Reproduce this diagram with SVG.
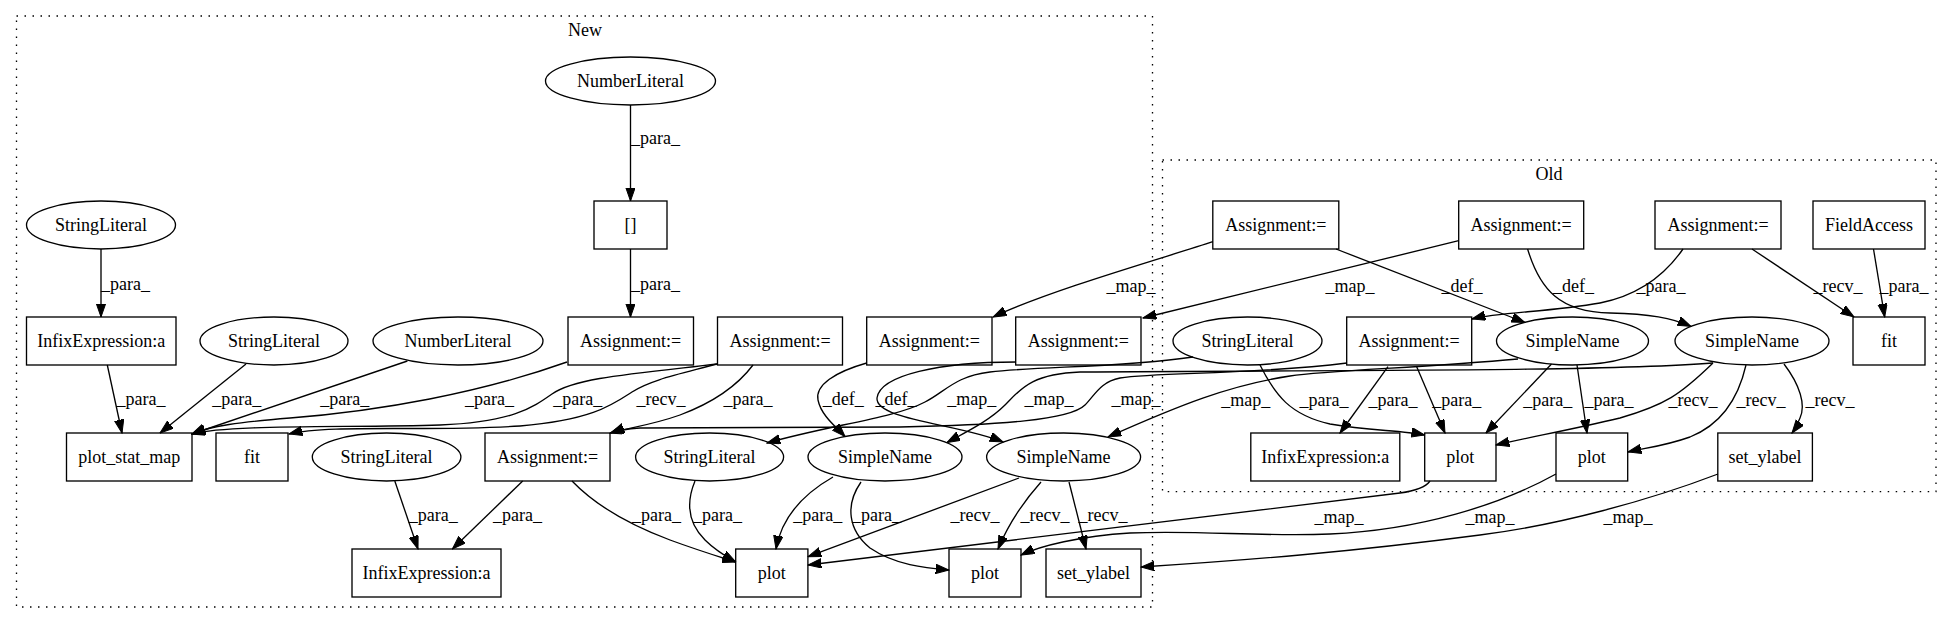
<svg xmlns="http://www.w3.org/2000/svg" width="1952" height="624" viewBox="0 0 1952 624" font-family="'Liberation Serif', 'DejaVu Serif', serif" font-size="18">
<style>
  text { font-family: 'Liberation Serif', 'DejaVu Serif', serif; font-size: 18px; fill: #000; text-anchor: middle; }
  .nd { fill: none; stroke: #000; stroke-width: 1.33; }
  .cl { fill: none; stroke: #000; stroke-width: 1.33; stroke-dasharray: 1.5 6.5; }
  .e { fill: none; stroke: #000; stroke-width: 1.33; marker-end: url(#ah); }
</style>
<defs>
  <marker id="ah" markerUnits="userSpaceOnUse" markerWidth="14" markerHeight="10" viewBox="0 0 14 10" refX="13.3" refY="4.67" orient="auto">
    <path d="M0,0 L13.3,4.67 L0,9.33 z" fill="#000" stroke="#000" stroke-width="1"/>
  </marker>
</defs>
<rect x="0" y="0" width="1952" height="624" fill="#fff"/>

<g id="cluster_new">
  <rect class="cl" x="16.5" y="16" width="1136" height="591"/>
  <text x="585" y="36">New</text>
</g>
<g id="cluster_old">
  <rect class="cl" x="1162.5" y="160" width="773.5" height="331.7"/>
  <text x="1549" y="180">Old</text>
</g>

<g id="connectors">
  <path class="e" d="M630.5,105 L630.5,201"/>
  <text x="655.5" y="143.5">_para_</text>
  <path class="e" d="M630.5,249 L630.5,317"/>
  <text x="655.5" y="289.5">_para_</text>
  <path class="e" d="M101,249 L101,317"/>
  <text x="125.5" y="289.5">_para_</text>
  <path class="e" d="M107.3,365 L122,433"/>
  <text x="141" y="405">_para_</text>
  <path class="e" d="M246,364 L160,433"/>
  <text x="236.8" y="405">_para_</text>
  <path class="e" d="M407.4,361 L192,434"/>
  <text x="344.7" y="405">_para_</text>
  <path class="e" d="M567,362 C480,393 380,411 290,418 C240,422 210,426 192,434"/>
  <text x="489.5" y="405">_para_</text>
  <path class="e" d="M717,364 C630,374 575,378 552,394 C532,408 512,422 440,425 C350,428 230,424 192,434"/>
  <text x="577.8" y="405">_para_</text>
  <path class="e" d="M717,364 C680,374 650,380 632,392 C612,405 592,420 520,426 C430,432 330,424 289,434"/>
  <text x="661" y="405">_recv_</text>
  <path class="e" d="M753,365 C738,385 712,403 680,415 C652,425 628,428 610,433"/>
  <text x="748" y="405">_para_</text>
  <path class="e" d="M866.7,363 C835,372 815,385 818,400 C821,415 835,426 845,436.5"/>
  <text x="843.3" y="405">_def_</text>
  <path class="e" d="M1016,362 C940,362 880,375 877,398 C875,420 960,424 1003,442"/>
  <text x="896" y="405">_def_</text>
  <path class="e" d="M394.8,481 L418,549"/>
  <text x="433.3" y="521">_para_</text>
  <path class="e" d="M522.7,481 L452.4,549"/>
  <text x="517.5" y="521">_para_</text>
  <path class="e" d="M572,481 C595,505 630,525 670,540 C700,551 720,557 735.7,562"/>
  <text x="656.5" y="521">_para_</text>
  <path class="e" d="M695,481 C685,505 690,525 705,540 C715,550 725,556 735.7,562"/>
  <text x="717.5" y="521">_para_</text>
  <path class="e" d="M833,477 C805,493 782,515 776,549"/>
  <text x="817.7" y="521">_para_</text>
  <path class="e" d="M861,482 C845,505 848,530 870,548 C895,565 925,568 949,570"/>
  <text x="876.6" y="521">_para_</text>
  <path class="e" d="M1019,478 L808,556.7"/>
  <text x="975" y="521">_recv_</text>
  <path class="e" d="M1041,482 C1025,500 1008,525 998,549"/>
  <text x="1045" y="521">_recv_</text>
  <path class="e" d="M1069,482 L1086,549"/>
  <text x="1103" y="521">_recv_</text>

  <path class="e" d="M1336,249 L1525,322.5"/>
  <text x="1462" y="292">_def_</text>
  <path class="e" d="M1527.6,249 C1540,290 1560,312 1610,313 C1650,314 1672,318 1691,326.5"/>
  <text x="1573.5" y="292">_def_</text>
  <path class="e" d="M1683,249 C1665,275 1640,295 1600,303 C1550,312 1500,312 1472,319"/>
  <text x="1661" y="292">_para_</text>
  <path class="e" d="M1752,249 L1854,317"/>
  <text x="1838" y="292">_recv_</text>
  <path class="e" d="M1873.5,249 L1884.7,317"/>
  <text x="1904" y="292">_para_</text>
  <path class="e" d="M1260,365 C1275,395 1290,415 1330,424 C1370,431 1400,430 1424.7,435"/>
  <text x="1324" y="406">_para_</text>
  <path class="e" d="M1388,366.7 L1340,433"/>
  <text x="1393" y="406">_para_</text>
  <path class="e" d="M1416.7,366.7 L1445,433"/>
  <text x="1456.7" y="406">_para_</text>
  <path class="e" d="M1551.5,364 L1486,433"/>
  <text x="1547.7" y="406">_para_</text>
  <path class="e" d="M1577,365 L1587,433"/>
  <text x="1609" y="406">_para_</text>
  <path class="e" d="M1713,363 C1680,395 1665,405 1620,418 C1570,430 1530,437 1496,445"/>
  <text x="1693" y="406">_recv_</text>
  <path class="e" d="M1746,365 C1738,400 1720,425 1690,437 C1665,446 1645,448 1628,452"/>
  <text x="1761" y="406">_recv_</text>
  <path class="e" d="M1784,364 C1800,385 1806,405 1800,418 C1797,425 1795,429 1792,433"/>
  <text x="1830" y="406">_recv_</text>

  <path class="e" d="M1212.8,241.7 C1170,256 1050,290 993,317"/>
  <text x="1131" y="292">_map_</text>
  <path class="e" d="M1458.7,240.7 L1143,318"/>
  <text x="1350" y="292">_map_</text>
  <path class="e" d="M1193,357 C1120,368 1040,366 990,372 C955,376 945,392 925,402 C895,418 830,425 767,443"/>
  <text x="971.7" y="405">_map_</text>
  <path class="e" d="M1347,363 C1250,375 1160,372 1120,378 C1100,382 1095,395 1085,405 C1070,420 1000,425 900,427 L640,428 C625,429 616,431 611,433"/>
  <text x="1136" y="405">_map_</text>
  <path class="e" d="M1713,363 C1600,372 1300,370 1080,372 C1030,374 1020,390 1005,405 C990,420 970,430 947,442.5"/>
  <text x="1049" y="405">_map_</text>
  <path class="e" d="M1518,359 C1420,368 1330,370 1290,376 C1230,385 1180,405 1108,437"/>
  <text x="1245.8" y="406">_map_</text>
  <path class="e" d="M1430,481 C1425,488 1415,491 1400,493 L808,565"/>
  <text x="1339" y="523">_map_</text>
  <path class="e" d="M1556,474 C1500,505 1420,530 1330,534 C1260,537 1200,530 1130,533 C1080,536 1040,546 1021,555"/>
  <text x="1490" y="523">_map_</text>
  <path class="e" d="M1718,474 C1650,500 1560,525 1480,535 C1350,552 1250,560 1141,567"/>
  <text x="1628" y="523">_map_</text>
</g>

<g id="n_num1"><ellipse class="nd" cx="630.5" cy="81" rx="85" ry="24"/><text x="630.5" y="87">NumberLiteral</text></g>
<g id="n_idx"><rect class="nd" x="594" y="201" width="73" height="48"/><text x="630.5" y="231">[]</text></g>
<g id="n_str1"><ellipse class="nd" cx="101" cy="225" rx="74.5" ry="24"/><text x="101" y="231">StringLiteral</text></g>
<g id="n_infix1"><rect class="nd" x="26.5" y="317" width="149.5" height="48"/><text x="101.2" y="347">InfixExpression:a</text></g>
<g id="n_str2"><ellipse class="nd" cx="274" cy="341" rx="74" ry="24"/><text x="274" y="347">StringLiteral</text></g>
<g id="n_num2"><ellipse class="nd" cx="458" cy="341" rx="85" ry="24"/><text x="458" y="347">NumberLiteral</text></g>
<g id="n_asg1"><rect class="nd" x="568" y="317" width="125.5" height="48"/><text x="630.7" y="347">Assignment:=</text></g>
<g id="n_asg2"><rect class="nd" x="717.5" y="317" width="125" height="48"/><text x="780" y="347">Assignment:=</text></g>
<g id="n_asg3"><rect class="nd" x="866.7" y="317" width="125.3" height="48"/><text x="929.3" y="347">Assignment:=</text></g>
<g id="n_asg4"><rect class="nd" x="1015.7" y="317" width="125.3" height="48"/><text x="1078.3" y="347">Assignment:=</text></g>
<g id="n_psm"><rect class="nd" x="66.5" y="433" width="125.5" height="48"/><text x="129.2" y="463">plot_stat_map</text></g>
<g id="n_fit"><rect class="nd" x="216" y="433" width="72" height="48"/><text x="252" y="463">fit</text></g>
<g id="n_str3"><ellipse class="nd" cx="386.6" cy="457" rx="74.3" ry="24"/><text x="386.6" y="463">StringLiteral</text></g>
<g id="n_asg5"><rect class="nd" x="485" y="433" width="125" height="48"/><text x="547.5" y="463">Assignment:=</text></g>
<g id="n_str4"><ellipse class="nd" cx="709.6" cy="457" rx="74" ry="24"/><text x="709.6" y="463">StringLiteral</text></g>
<g id="n_sn1"><ellipse class="nd" cx="885" cy="457" rx="77" ry="24"/><text x="885" y="463">SimpleName</text></g>
<g id="n_sn2"><ellipse class="nd" cx="1063.6" cy="457" rx="77" ry="24"/><text x="1063.6" y="463">SimpleName</text></g>
<g id="n_infix2"><rect class="nd" x="352" y="549" width="149" height="48"/><text x="426.5" y="579">InfixExpression:a</text></g>
<g id="n_plot1"><rect class="nd" x="735.7" y="549" width="72.2" height="48"/><text x="771.8" y="579">plot</text></g>
<g id="n_plot2"><rect class="nd" x="949" y="549" width="72" height="48"/><text x="985" y="579">plot</text></g>
<g id="n_setyl"><rect class="nd" x="1046" y="549" width="95" height="48"/><text x="1093.5" y="579">set_ylabel</text></g>

<g id="o_asg1"><rect class="nd" x="1212.8" y="201" width="126" height="48"/><text x="1275.8" y="231">Assignment:=</text></g>
<g id="o_asg2"><rect class="nd" x="1458.7" y="201" width="125" height="48"/><text x="1521.2" y="231">Assignment:=</text></g>
<g id="o_asg3"><rect class="nd" x="1655" y="201" width="126" height="48"/><text x="1718" y="231">Assignment:=</text></g>
<g id="o_fa"><rect class="nd" x="1813" y="201" width="112" height="48"/><text x="1869" y="231">FieldAccess</text></g>
<g id="o_str"><ellipse class="nd" cx="1247.5" cy="341" rx="74.5" ry="24"/><text x="1247.5" y="347">StringLiteral</text></g>
<g id="o_asg4"><rect class="nd" x="1346.7" y="317" width="125" height="48"/><text x="1409.2" y="347">Assignment:=</text></g>
<g id="o_sn1"><ellipse class="nd" cx="1572.5" cy="341" rx="76" ry="24"/><text x="1572.5" y="347">SimpleName</text></g>
<g id="o_sn2"><ellipse class="nd" cx="1752" cy="341" rx="77" ry="24"/><text x="1752" y="347">SimpleName</text></g>
<g id="o_fit"><rect class="nd" x="1853" y="317" width="72" height="48"/><text x="1889" y="347">fit</text></g>
<g id="o_infix"><rect class="nd" x="1250.8" y="433" width="149" height="48"/><text x="1325.3" y="463">InfixExpression:a</text></g>
<g id="o_plot1"><rect class="nd" x="1424.7" y="433" width="71.3" height="48"/><text x="1460.3" y="463">plot</text></g>
<g id="o_plot2"><rect class="nd" x="1556" y="433" width="71.7" height="48"/><text x="1591.8" y="463">plot</text></g>
<g id="o_setyl"><rect class="nd" x="1717.8" y="433" width="94.6" height="48"/><text x="1765" y="463">set_ylabel</text></g>
</svg>
